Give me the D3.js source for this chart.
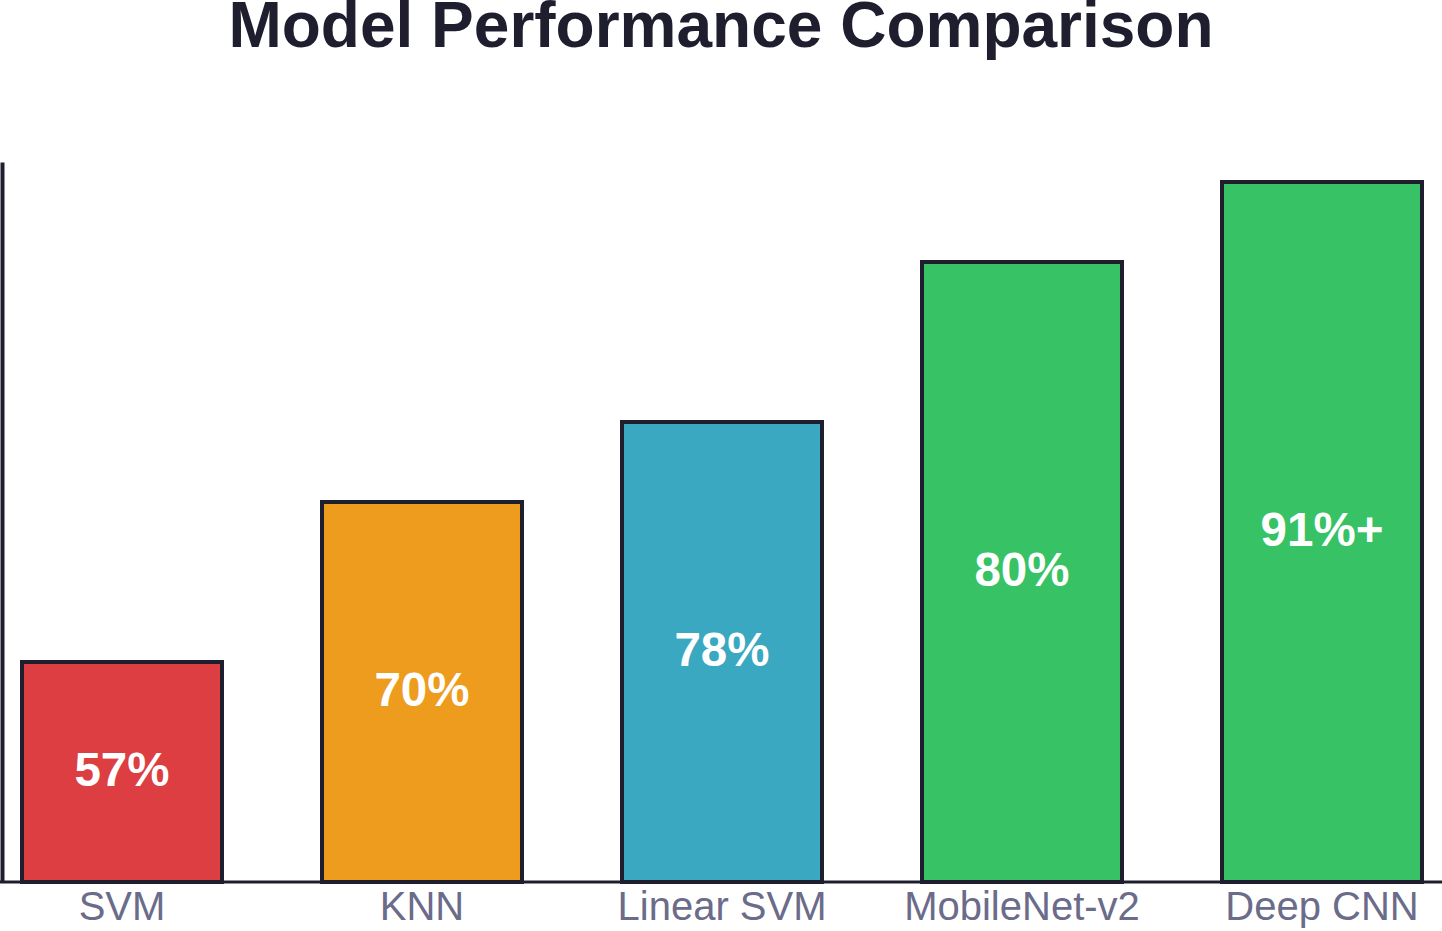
<!DOCTYPE html>
<html>
<head>
<meta charset="utf-8">
<script src="https://cdn.jsdelivr.net/npm/d3@7"></script>
<style>
  html, body { margin: 0; padding: 0; background: #ffffff; }
  svg { display: block; }
</style>
</head>
<body>
<div id="chart"></div>
<script>
'use strict';

// data
const models = ['SVM', 'KNN', 'Linear SVM', 'MobileNet-v2', 'Deep CNN'];
const barValues = [11, 19, 23, 31, 35];
const barLabels = ['57%', '70%', '78%', '80%', '91%+'];
const barColors = ['#dc3e42', '#ed9c1e', '#3aa8c1', '#36c265', '#36c265'];

const width = 1442,
      height = 931;
const ink = '#1e1e2e',
      tickColor = '#6b6b8a';

let svg = d3.select('#chart')
            .append('svg')
            .attr('width', width)
            .attr('height', height);

let x = d3.scaleBand()
          .domain(models)
          .range([2, 1442])
          .paddingInner(1 / 3)
          .paddingOuter(1 / 15);

let y = d3.scaleLinear()
          .domain([0, 36])
          .range([882, 162]);

svg.append('text')
   .attr('x', width / 2)
   .attr('y', 47)
   .attr('text-anchor', 'middle')
   .attr('font-family', 'Liberation Sans, Arial, sans-serif')
   .attr('font-weight', 'bold')
   .attr('font-size', 64)
   .attr('fill', ink)
   .text('Model Performance Comparison');

let bars = svg.append('g').attr('class', 'bars');

bars.selectAll('rect')
    .data(models)
    .enter()
    .append('rect')
    .attr('x', function(d) { return x(d); })
    .attr('y', function(d, i) { return y(barValues[i]); })
    .attr('width', x.bandwidth())
    .attr('height', function(d, i) { return y(0) - y(barValues[i]); })
    .attr('fill', function(d, i) { return barColors[i]; })
    .attr('stroke', ink)
    .attr('stroke-width', 4);

bars.selectAll('text')
    .data(models)
    .enter()
    .append('text')
    .attr('x', function(d) { return x(d) + x.bandwidth() / 2; })
    .attr('y', function(d, i) { return (y(0) + y(barValues[i])) / 2 + 14; })
    .attr('text-anchor', 'middle')
    .attr('font-family', 'Liberation Sans, Arial, sans-serif')
    .attr('font-weight', 'bold')
    .attr('font-size', 47.5)
    .attr('fill', '#ffffff')
    .text(function(d, i) { return barLabels[i]; });

// x axis
let xAxis = svg.append('g')
               .attr('transform', 'translate(0,' + y(0) + ')')
               .call(d3.axisBottom(x).tickSize(0).tickPadding(10));
xAxis.select('.domain')
     .attr('d', 'M0,0H' + width)
     .attr('stroke', ink)
     .attr('stroke-width', 3);
xAxis.selectAll('text')
     .attr('font-family', 'Liberation Sans, Arial, sans-serif')
     .attr('font-size', 40)
     .attr('fill', tickColor);

// y axis, line only
let yAxis = svg.append('g')
               .attr('transform', 'translate(2,0)')
               .call(d3.axisLeft(y).ticks(0).tickSize(0));
yAxis.selectAll('text').remove();
yAxis.select('.domain')
     .attr('stroke', ink)
     .attr('stroke-width', 4);
</script>
</body>
</html>
